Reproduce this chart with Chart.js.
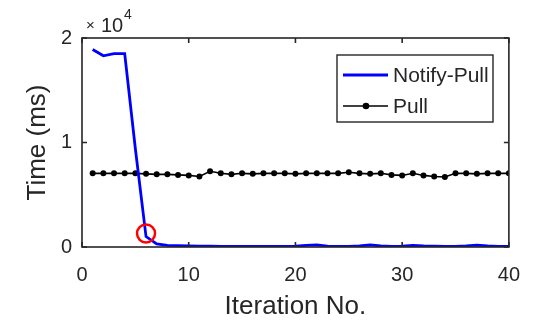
<!DOCTYPE html>
<html>
<head>
<meta charset="utf-8">
<script src="https://cdn.jsdelivr.net/npm/chart.js@4.4.1/dist/chart.umd.min.js"></script>
<style>
  html, body { margin: 0; padding: 0; background: #ffffff; }
  #wrap { width: 536px; height: 323px; position: relative; }
  canvas { filter: blur(0.45px); }
</style>
</head>
<body>
<div id="wrap"><canvas id="c" width="536" height="323"></canvas></div>
<script>
// ---- data ----
const iterations = [1,2,3,4,5,6,7,8,9,10,11,12,13,14,15,16,17,18,19,20,21,22,23,24,25,26,27,28,29,30,31,32,33,34,35,36,37,38,39,40];
const notifyPull = [18900,18300,18500,18500,9400,1000,300,150,120,100,80,80,60,60,60,60,60,60,60,80,150,200,80,60,60,100,200,100,60,80,150,100,80,60,60,100,180,100,60,60];
const pull = [7050,7050,7050,7050,7050,7000,6950,6950,6900,6850,6750,7250,7050,6950,7050,7000,7050,7050,7050,7000,7050,7050,7050,7050,7150,7050,7000,7050,6900,6850,7050,6850,6750,6700,7050,7050,7000,7050,7050,7050];
const highlightX = [6];
const highlightY = [1300];
const xTicks = [0,10,20,30,40];
const yTicks = [0,10000,20000];
const seriesNames = ['Notify-Pull','Pull'];
const xTitle = 'Iteration No.';
const yTitle = 'Time (ms)';

const TEXT = '#262626';
const FONT = "'Liberation Sans', Arial, Helvetica, sans-serif";

const toPts = (xs, ys) => xs.map((x, i) => ({x: x, y: ys[i]}));

// inner ticks, box and legend, exponent label
const matlabAxes = {
  id: 'matlabAxes',
  afterDraw(chart) {
    const {ctx, chartArea: a, scales: {x, y}} = chart;
    ctx.save();
    ctx.strokeStyle = TEXT;
    ctx.lineWidth = 1.6;
    ctx.strokeRect(a.left, a.top, a.right - a.left, a.bottom - a.top);
    const L = 5;
    ctx.beginPath();
    xTicks.forEach(v => {
      const px = x.getPixelForValue(v);
      ctx.moveTo(px, a.bottom); ctx.lineTo(px, a.bottom - L);
      ctx.moveTo(px, a.top); ctx.lineTo(px, a.top + L);
    });
    yTicks.forEach(v => {
      const py = y.getPixelForValue(v);
      ctx.moveTo(a.left, py); ctx.lineTo(a.left + L, py);
      ctx.moveTo(a.right, py); ctx.lineTo(a.right - L, py);
    });
    ctx.stroke();

    // exponent "×10^4"
    ctx.fillStyle = TEXT;
    ctx.textBaseline = 'alphabetic';
    ctx.textAlign = 'left';
    ctx.font = '15px ' + FONT;
    ctx.fillText('×', 86, 30);
    ctx.font = '20px ' + FONT;
    ctx.fillText('10', 101, 32);
    ctx.font = '14px ' + FONT;
    ctx.fillText('4', 124, 19);

    // legend
    const bx = 337, by = 55, bw = 156, bh = 67;
    ctx.fillStyle = '#ffffff';
    ctx.fillRect(bx, by, bw, bh);
    ctx.strokeStyle = TEXT;
    ctx.lineWidth = 1.4;
    ctx.strokeRect(bx, by, bw, bh);
    const rows = [75, 106];
    chart.data.datasets.slice(0, 2).forEach((ds, i) => {
      const ry = rows[i];
      ctx.strokeStyle = ds.borderColor;
      ctx.lineWidth = ds.borderWidth;
      ctx.beginPath();
      ctx.moveTo(343, ry); ctx.lineTo(388, ry);
      ctx.stroke();
      if (ds.pointRadius > 0) {
        ctx.fillStyle = ds.pointBackgroundColor;
        ctx.beginPath();
        ctx.arc(366, ry, ds.pointRadius + 0.3, 0, Math.PI * 2);
        ctx.fill();
      }
      ctx.fillStyle = TEXT;
      ctx.font = '21px ' + FONT;
      ctx.textBaseline = 'middle';
      ctx.textAlign = 'left';
      ctx.fillText(ds.label, 393, ry + 1);
    });
    ctx.restore();
  }
};

new Chart(document.getElementById('c'), {
  type: 'line',
  data: {
    datasets: [
      {
        label: seriesNames[0],
        data: toPts(iterations, notifyPull),
        borderColor: '#0000ff',
        backgroundColor: '#0000ff',
        borderWidth: 2.8,
        pointRadius: 0,
        tension: 0,
        order: 1
      },
      {
        label: seriesNames[1],
        data: toPts(iterations, pull),
        borderColor: '#000000',
        backgroundColor: '#000000',
        pointBackgroundColor: '#000000',
        pointBorderColor: '#000000',
        borderWidth: 1.6,
        pointRadius: 3,
        pointBorderWidth: 0,
        tension: 0,
        order: 2
      },
      {
        label: 'highlight',
        data: toPts(highlightX, highlightY),
        showLine: false,
        borderColor: '#ff0000',
        pointBorderColor: '#ff0000',
        pointBackgroundColor: 'rgba(0,0,0,0)',
        pointRadius: 9,
        pointBorderWidth: 2.5,
        order: 0
      }
    ]
  },
  options: {
    responsive: false,
    animation: false,
    events: [],
    layout: { padding: { top: 38, right: 25, left: 0, bottom: 0 } },
    plugins: { legend: { display: false }, tooltip: { enabled: false } },
    scales: {
      x: {
        type: 'linear',
        min: 0, max: 40,
        afterFit: s => { s.height = 76; },
        afterBuildTicks: s => { s.ticks = xTicks.map(v => ({value: v})); },
        grid: { display: false, drawTicks: false },
        border: { display: false },
        ticks: { color: TEXT, font: { family: FONT, size: 20 }, padding: 16, maxRotation: 0 },
        title: { display: true, text: xTitle, color: TEXT, font: { family: FONT, size: 26 }, padding: { top: 0, bottom: 1 } }
      },
      y: {
        type: 'linear',
        min: 0, max: 20000,
        afterFit: s => { s.width = 82; },
        afterBuildTicks: s => { s.ticks = yTicks.map(v => ({value: v})); },
        grid: { display: false, drawTicks: false },
        border: { display: false },
        ticks: { color: TEXT, font: { family: FONT, size: 20 }, padding: 10, callback: v => String(v / 10000) },
        title: { display: true, text: yTitle, color: TEXT, font: { family: FONT, size: 26 }, padding: { top: 22, bottom: 0 } }
      }
    }
  },
  plugins: [matlabAxes]
});
</script>
</body>
</html>
